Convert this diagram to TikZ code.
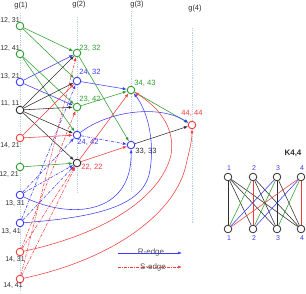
\documentclass[tikz,border=0pt]{standalone}
\usepackage{fontspec}
\setmainfont{Liberation Sans}
\usetikzlibrary{arrows.meta}
\definecolor{rgreen}{HTML}{2E9E2E}
\definecolor{rblue}{HTML}{3C3CF5}
\definecolor{rred}{HTML}{F23C3C}
\definecolor{rblack}{HTML}{2E2E2E}
\definecolor{guideblue}{HTML}{B8CFE8}
\definecolor{legtext}{HTML}{505050}

\begin{document}
\begin{tikzpicture}[x=1pt,y=-1pt,>={Latex[length=4pt,width=3pt]},
  v/.style={circle,draw=#1,fill=white,minimum size=7.6pt,inner sep=0pt,line width=0.9pt},
  lbl/.style={inner sep=0pt,text=rblack,font=\fontsize{7}{8}\selectfont},
  vlbl/.style={inner sep=0pt,text=#1,font=\fontsize{7.6}{8.6}\selectfont},
  hd/.style={inner sep=0.5pt,text=rblack,font=\fontsize{7.5}{8.5}\selectfont},
  guide/.style={densely dotted,draw=guideblue,line width=0.8pt},
  r/.style={->,line width=0.55pt},
  s/.style={->,line width=0.55pt,dash pattern=on 3pt off 1.2pt on 0.7pt off 1.2pt},
  k/.style={line width=0.55pt},
  leg/.style={inner sep=0pt,text=legtext,font=\fontsize{8}{9}\selectfont}]
\useasboundingbox (0,0) rectangle (306,293);

% level headers and guides
\node[hd] (g1) at (21,6) {g(1)};
\node[hd] (g2) at (79,5) {g(2)};
\node[hd] (g3) at (137,5) {g(3)};
\node[hd] (g4) at (195,9) {g(4)};
\coordinate (t1) at (20,13); \coordinate (b1) at (20,291);
\coordinate (t2) at (77,17); \coordinate (b2) at (77,193);
\coordinate (t3) at (131,11); \coordinate (b3) at (131,192);
\coordinate (t4) at (192,28); \coordinate (b4) at (192,223);
\draw[guide] (t1)--(b1); \draw[guide] (t2)--(b2);
\draw[guide] (t3)--(b3); \draw[guide] (t4)--(b4);

% g(1)
\node[v=rgreen] (n1231) at (20,26) {};
\node[v=rgreen] (n1241) at (20,54) {};
\node[v=rblue] (n1321) at (20,82) {};
\node[v=rblack] (n1111) at (20,110) {};
\node[v=rred] (n1421) at (20,138) {};
\node[v=rgreen] (n1221) at (20,167) {};
\node[v=rblue] (n1331) at (20,195) {};
\node[v=rblue] (n1341) at (20,223) {};
\node[v=rred] (n1431) at (20,252) {};
\node[v=rred] (n1441) at (20,279) {};
\node[lbl] (l1231) at (10,20) {12, 31};
\node[lbl] (l1241) at (10,48) {12, 41};
\node[lbl] (l1321) at (10,76) {13, 21};
\node[lbl] (l1111) at (10,104) {11, 11};
\node[lbl] (l1421) at (10,145) {14, 21};
\node[lbl] (l1221) at (9,174) {12, 21};
\node[lbl] (l1331) at (15,203) {13, 31};
\node[lbl] (l1341) at (11,231) {13, 41};
\node[lbl] (l1431) at (15,259) {14, 31};
\node[lbl] (l1441) at (13,286) {14, 41};

% g(2)
\node[v=rgreen] (n2332) at (77,53) {};
\node[v=rblue] (n2432) at (77,81) {};
\node[v=rgreen] (n2342) at (77,107) {};
\node[v=rblue] (n2442) at (77,135) {};
\node[v=rblack] (n2222) at (77,163) {};
\node[vlbl=rgreen] (l2332) at (90,48) {23, 32};
\node[vlbl=rblue] (l2432) at (90,72) {24, 32};
\node[vlbl=rgreen] (l2342) at (90,99) {23, 42};
\node[vlbl=rblue] (l2442) at (88,142) {24, 42};
\node[vlbl=rred] (l2222) at (92,167) {22, 22};

% g(3) and g(4)
\node[v=rgreen] (n3443) at (131,90) {};
\node[v=rblue] (n3333) at (131,145) {};
\node[v=rred] (n4444) at (192,125) {};
\node[vlbl=rgreen] (l3443) at (145,83) {34, 43};
\node[vlbl=rblack] (l3333) at (146,151) {33, 33};
\node[vlbl=rred] (l4444) at (192,113) {44, 44};

% R-edges
\draw[r,rgreen] (n1231)--(n2332); \draw[r,rgreen] (n1231)--(n2432);
\draw[r,rgreen] (n1241)--(n2342); \draw[r,rgreen] (n1241)--(n2442);
\draw[r,rgreen] (n1221)--(n2222); \draw[r,rgreen] (n2332)--(n3333);
\draw[r,rgreen] (n2342)--(n3443); \draw[r,rgreen] (n3443)--(n4444);
\draw[r,rblue] (n1321)--(n2332); \draw[r,rblue] (n1321)--(n2342);
\draw[r,rblue] (n2432)--(n3443);
\draw[r,rblack] (n1111)--(n2332); \draw[r,rblack] (n1111)--(n2432);
\draw[r,rblack] (n1111)--(n2342); \draw[r,rblack] (n1111)--(n2442);
\draw[r,rblack] (n1111)--(n2222); \draw[r,rblack] (n3333)--(n4444);
\draw[r,rred] (n1421)--(n2432); \draw[r,rred] (n1421)--(n2442);
\draw[r,rred] (n2222)--(n3333); \draw[r,rred] (n2222)--(n3443);
\draw[r,rblue] (n2442) .. controls (110,110) and (160,105) .. (n4444);
\draw[r,rblue] (n1331) .. controls (70,220) and (132,215) .. (n3333);
\draw[r,rblue] (n1341) .. controls (100,217) and (145,205) .. (150,170)
  .. controls (155,140) and (147,110) .. (n3443);
\draw[r,rred] (n1431) .. controls (100,235) and (160,200) .. (171,155)
  .. controls (176,125) and (155,105) .. (n3443);
\draw[r,rred] (n1441) .. controls (110,260) and (175,215) .. (186,165)
  .. controls (190,148) and (192,140) .. (n4444);

% S-edges
\draw[s,rblue] (n1331)--(n2222); \draw[s,rblue] (n1331)--(n2442);
\draw[s,rblue] (n1341)--(n2222); \draw[s,rblue] (n1341)--(n2432);
\draw[s,rblue] (n2442)--(n3333);
\draw[s,rred] (n1431)--(n2222); \draw[s,rred] (n1431)--(n2342);
\draw[s,rred] (n1441)--(n2222); \draw[s,rred] (n1441)--(n2332);

% legend
\node[leg] (rtxt) at (151,252) {R-edge};
\node[leg] (stxt) at (153,267) {S-edge};
\coordinate (rs) at (118,253); \coordinate (re) at (182,253);
\coordinate (ss) at (118,267); \coordinate (se) at (182,267);
\draw[r,rblue] (rs)--(re); \draw[s,rred] (ss)--(se);

% K4,4
\node[inner sep=0pt,font=\fontsize{8}{9}\selectfont\bfseries,text=rblack] (ktitle) at (293,153) {K4,4};
\foreach \i/\x in {1/228,2/253,3/277,4/301}{
  \node[v=rblack,line width=0.8pt] (kt\i) at (\x,177) {};
  \node[v=rblack,line width=0.8pt] (kb\i) at (\x,229) {};
  \node[lbl,text=rblue] (ktl\i) at (\x+1,168) {\i};
  \node[lbl,text=rblue] (kbl\i) at (\x+1,238) {\i};
}
\foreach \a/\b/\c in {1/1/rblack,1/2/rblack,1/3/rblack,1/4/rblack,2/3/rblack,2/4/rblack,
  3/3/rblack,3/4/rblack,2/2/rred,4/4/rred,4/1/rred,2/1/rgreen,3/2/rgreen,4/3/rgreen,
  3/1/rblue,4/2/rblue}
  \draw[k,\c] (kt\a)--(kb\b);
\end{tikzpicture}
\end{document}
